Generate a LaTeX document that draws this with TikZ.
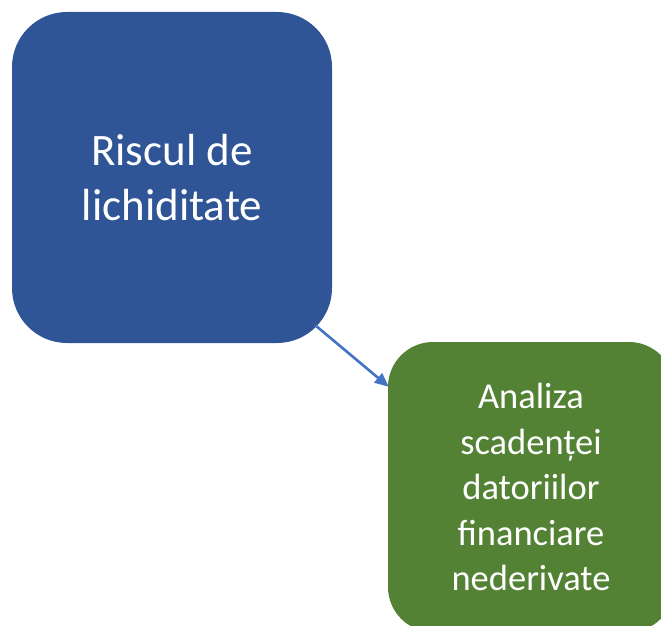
\documentclass[tikz,border=0pt]{standalone}
\usepackage{fontspec}
\setmainfont{Carlito}
\usetikzlibrary{arrows.meta,positioning,calc}
\definecolor{RiskBlue}{HTML}{2F5597}
\definecolor{RiskGreen}{HTML}{548235}
\definecolor{LinkBlue}{HTML}{4472C4}
\begin{document}
\begin{tikzpicture}[
  x=1pt,y=1pt,
  topic/.style={rounded corners=55pt,minimum width=320pt,minimum height=331pt,align=center,text=white,inner sep=0pt},
  detail/.style={rounded corners=45pt,minimum width=286pt,minimum height=290pt,align=center,text=white,inner sep=0pt},
  arrow/.style={-{Triangle[length=14pt,width=12pt]},line width=2.6pt,LinkBlue},
]
\useasboundingbox (0,0) rectangle (661,-626);
\clip (0,0) rectangle (661,-626);
\node[topic,fill=RiskBlue,font=\fontsize{45}{55}\selectfont] (risk) at (172,-177.5) {Riscul de\\lichiditate};
\node[detail,fill=RiskGreen,font=\fontsize{36.5}{45.5}\selectfont] (maturity) at (531,-487) {Analiza\\scadenței\\datoriilor\\financiare\\nederivate};
\draw[arrow] ([xshift=-17pt,yshift=18pt]risk.south east) -- ([xshift=1pt,yshift=-45pt]maturity.north west);
\end{tikzpicture}
\end{document}
